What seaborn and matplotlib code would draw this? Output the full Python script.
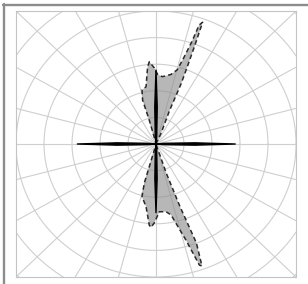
import numpy as np
import pandas as pd
import seaborn as sns
import matplotlib
matplotlib.use("Agg")
import matplotlib.pyplot as plt
from matplotlib.lines import Line2D

#### DATA (polar outlines, angle in degrees, radius in grid units)

# gray lobes: upper lobe then lower lobe, both starting/ending at centre
upper_angle = [66, 69.0, 68.4, 69.0, 69.5, 70.0, 71.0, 71.6, 73.0, 74.8, 78.4,
               84.9, 88.8, 91.2, 94.4, 95.9, 99.4, 103.8, 106.2, 105, 104]
upper_radius = [0.45, 1.36, 2.45, 3.17, 3.97, 4.87, 4.73, 4.05, 3.39, 2.89, 2.67,
                2.54, 2.62, 2.86, 3.10, 2.92, 2.18, 2.09, 1.72, 0.93, 0.30]

lower_angle = [-105, -105.9, -104.2, -98.6, -94.5, -93.3, -91.2, -87.3, -82.0,
               -78.6, -73.5, -71.2, -70.3, -68.8, -70.0, -71.5]
lower_radius = [0.23, 1.52, 2.04, 2.38, 3.06, 3.14, 2.97, 2.55, 2.57,
                2.72, 3.77, 4.81, 4.87, 3.99, 2.50, 1.15]

# black cross (four thin lobes)
cross_angle = [-5, -1.8, 0, 1.8, 5,
               85, 88.2, 90, 91.8, 95,
               175, 178.2, 180, 181.8, 185,
               265, 268.2, 270, 271.8, 275]
cross_radius = [0.3, 1.4, 2.83, 1.4, 0.3,
                0.3, 1.4, 2.78, 1.4, 0.3,
                0.3, 1.4, 2.81, 1.4, 0.3,
                0.3, 1.3, 2.58, 1.3, 0.3]

ring_radii = [1, 2, 3, 4, 5, 6, 7]
spoke_angles = list(range(0, 360, 15))


def to_xy(angles, radii):
    a = np.deg2rad(np.asarray(angles, dtype=float))
    r = np.asarray(radii, dtype=float)
    return r * np.cos(a), r * np.sin(a)


sns.set_style("white")

fig = plt.figure(figsize=(3.08, 2.84), dpi=100)
ax = fig.add_axes([16 / 308, 7 / 284, 280 / 308, 266 / 284])

# polar grid
t = np.linspace(0, 2 * np.pi, 361)
for r in ring_radii:
    ax.plot(r * np.cos(t), r * np.sin(t), color="#cfcfcf", lw=0.8, zorder=1)
for a in spoke_angles:
    ax.plot([0, 8 * np.cos(np.deg2rad(a))], [0, 8 * np.sin(np.deg2rad(a))],
            color="#cfcfcf", lw=0.8, zorder=1)

# gray lobes
lobe_df = pd.DataFrame({
    "angle": [0] + upper_angle + [0] + lower_angle + [0],
    "radius": [0] + upper_radius + [0] + lower_radius + [0],
})
lx, ly = to_xy(lobe_df["angle"], lobe_df["radius"])
ax.fill(lx, ly, color="#8c8c8c", alpha=0.62, lw=0, zorder=2)
sns.lineplot(x=lx, y=ly, sort=False, estimator=None, color="#2a2a2a",
             lw=1.1, linestyle=(0, (3, 2)), ax=ax, zorder=3)

# black cross
cx, cy = to_xy([0] + cross_angle[:5] + [0] + cross_angle[5:10] + [0]
               + cross_angle[10:15] + [0] + cross_angle[15:] + [0],
               [0] + cross_radius[:5] + [0] + cross_radius[5:10] + [0]
               + cross_radius[10:15] + [0] + cross_radius[15:] + [0])
ax.fill(cx, cy, color="black", lw=0, zorder=4)
sns.lineplot(x=cx, y=cy, sort=False, estimator=None, color="black",
             lw=1.0, ax=ax, zorder=4)

ax.set_xlim(-5, 5)
ax.set_ylim(-5, 5)
ax.set_xticks([])
ax.set_yticks([])
for s in ax.spines.values():
    s.set_color("#c4c4c4")
    s.set_linewidth(0.8)

# outer frame lines (top and left)
fig.add_artist(Line2D([3 / 308, 1], [1 - 5 / 284, 1 - 5 / 284],
                      color="#8c8c8c", lw=1.7, transform=fig.transFigure))
fig.add_artist(Line2D([4 / 308, 4 / 308], [0, 1 - 4 / 284],
                      color="#8c8c8c", lw=1.7, transform=fig.transFigure))

fig.savefig("out.png", dpi=100)
